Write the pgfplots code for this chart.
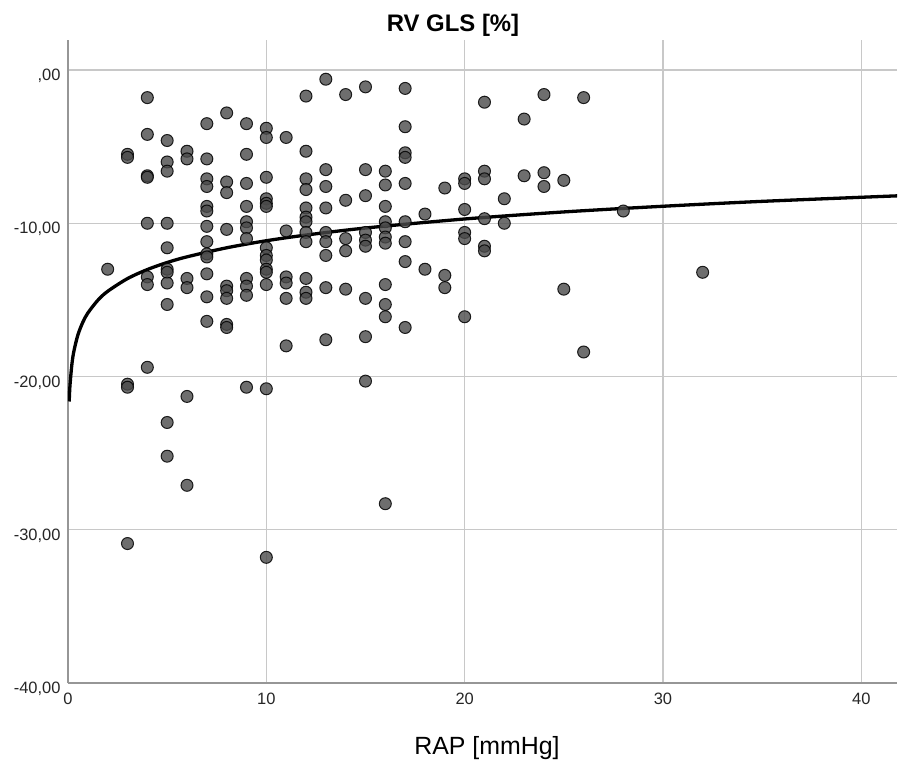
\documentclass[border=0pt]{standalone}
\usepackage{fontspec}
\setmainfont{Liberation Sans}
\usepackage{pgfplots}
\pgfplotsset{compat=1.18}
\definecolor{gridc}{RGB}{200,200,200}
\definecolor{axc}{RGB}{150,150,150}
\definecolor{ptfill}{RGB}{74,74,74}
\begin{document}
\begin{tikzpicture}
\begin{axis}[
 name=ax, at={(0,0)}, anchor=south west,
 scale only axis, width=829bp, height=643bp,
 xmin=0, xmax=41.8, ymin=-40, ymax=1.96,
 axis lines*=left, axis line style={draw=axc, line width=1.5bp, -},
 xtick={0,10,20,30,40}, xticklabels={0,10,20,30,40},
 ytick={-40,-30,-20,-10,0}, yticklabels={{-40,00},{-30,00},{-20,00},{-10,00},{,00}},
 major tick length=0pt,
 grid=major, major grid style={draw=gridc, line width=1.3bp},
 ticklabel style={font=\fontsize{16.5}{18}\selectfont, text=black!85},
 xticklabel style={yshift=-7bp}, yticklabel style={xshift=-4bp, yshift=-6bp},
]
\addplot[only marks, mark=*, mark size=6bp, mark options={fill=ptfill, fill opacity=0.8, draw=black, draw opacity=0.85, line width=1bp}] table {
x y
2 -13.0
3 -5.5
3 -5.7
3 -20.5
3 -20.7
3 -30.9
4 -1.8
4 -4.2
4 -6.9
4 -7.0
4 -10.0
4 -13.5
4 -14.0
4 -19.4
5 -4.6
5 -6.0
5 -6.6
5 -10.0
5 -11.6
5 -13.0
5 -13.2
5 -13.9
5 -15.3
5 -23.0
5 -25.2
6 -5.3
6 -5.8
6 -13.6
6 -14.2
6 -21.3
6 -27.1
7 -3.5
7 -5.8
7 -7.1
7 -7.6
7 -8.9
7 -9.2
7 -10.2
7 -11.2
7 -12.0
7 -12.2
7 -13.3
7 -14.8
7 -16.4
8 -2.8
8 -7.3
8 -8.0
8 -10.4
8 -14.1
8 -14.4
8 -14.9
8 -16.6
8 -16.8
9 -3.5
9 -5.5
9 -7.4
9 -8.9
9 -9.9
9 -10.3
9 -11.0
9 -13.6
9 -14.1
9 -14.7
9 -20.7
10 -3.8
10 -4.4
10 -7.0
10 -8.4
10 -8.7
10 -8.9
10 -11.6
10 -12.1
10 -12.4
10 -13.0
10 -13.2
10 -14.0
10 -20.8
10 -31.8
11 -4.4
11 -10.5
11 -13.5
11 -13.9
11 -14.9
11 -18.0
12 -1.7
12 -5.3
12 -7.1
12 -7.8
12 -9.0
12 -9.6
12 -9.9
12 -10.6
12 -11.2
12 -13.6
12 -14.5
12 -14.9
13 -0.6
13 -6.5
13 -7.6
13 -9.0
13 -10.6
13 -11.2
13 -12.1
13 -14.2
13 -17.6
14 -1.6
14 -8.5
14 -11.0
14 -11.8
14 -14.3
15 -1.1
15 -6.5
15 -8.2
15 -10.6
15 -11.1
15 -11.5
15 -14.9
15 -17.4
15 -20.3
16 -6.6
16 -7.5
16 -8.9
16 -9.9
16 -10.3
16 -10.9
16 -11.3
16 -14.0
16 -15.3
16 -16.1
16 -28.3
17 -1.2
17 -3.7
17 -5.4
17 -5.7
17 -7.4
17 -9.9
17 -11.2
17 -12.5
17 -16.8
18 -9.4
18 -13.0
19 -7.7
19 -13.4
19 -14.2
20 -7.1
20 -7.4
20 -9.1
20 -10.6
20 -11.0
20 -16.1
21 -2.1
21 -6.6
21 -7.1
21 -9.7
21 -11.5
21 -11.8
22 -8.4
22 -10.0
23 -3.2
23 -6.9
24 -1.6
24 -6.7
24 -7.6
25 -7.2
25 -14.3
26 -1.8
26 -18.4
28 -9.2
32 -13.2
};
\addplot[black, line width=3.3bp, smooth] table {
x y
0.06 -21.63
0.1 -20.58
0.2 -19.16
0.3 -18.33
0.5 -17.28
0.75 -16.45
1 -15.86
1.5 -15.03
2 -14.44
3 -13.61
4 -13.02
5 -12.56
6 -12.19
8 -11.60
10 -11.14
12 -10.77
15 -10.31
20 -9.72
25 -9.26
30 -8.89
35 -8.57
42 -8.20
};
\end{axis}
\pgfresetboundingbox
\path (-68bp,-82bp) rectangle (830bp,683bp);
\node[font=\bfseries\fontsize{24}{28}\selectfont] at (385bp,658bp) {RV GLS [\%]};
\node[font=\fontsize{25}{30}\selectfont] at (419bp,-65bp) {RAP [mmHg]};
\end{tikzpicture}
\end{document}
